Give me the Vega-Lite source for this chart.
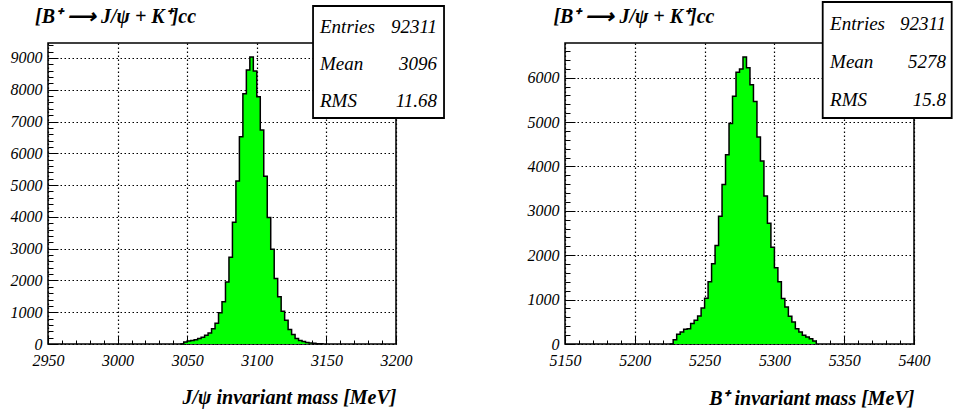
{
  "$schema": "https://vega.github.io/schema/vega-lite/v6.json",
  "background": "white",
  "padding": {"left": 9, "top": 0, "right": 0, "bottom": 0},
  "spacing": 169,
  "bounds": "flush",
  "config": {
    "view": {"stroke": "black", "strokeWidth": 1.5},
    "font": "Liberation Serif",
    "axis": {"labelFont": "Liberation Serif", "labelFontStyle": "italic", "labelFontSize": 16, "labelColor": "black", "tickColor": "black", "domain": false}
  },
  "datasets": {
    "jpsi": [
      {"mass": 3045, "entries": 0}, {"mass": 3047.5, "entries": 60}, {"mass": 3050, "entries": 95}, {"mass": 3052.5, "entries": 110},
      {"mass": 3055, "entries": 135}, {"mass": 3057.5, "entries": 170}, {"mass": 3060, "entries": 215}, {"mass": 3062.5, "entries": 275},
      {"mass": 3065, "entries": 350}, {"mass": 3067.5, "entries": 480}, {"mass": 3070, "entries": 650}, {"mass": 3072.5, "entries": 980},
      {"mass": 3075, "entries": 1330}, {"mass": 3077.5, "entries": 1950}, {"mass": 3080, "entries": 2730}, {"mass": 3082.5, "entries": 3830},
      {"mass": 3085, "entries": 5130}, {"mass": 3087.5, "entries": 6520}, {"mass": 3090, "entries": 7870}, {"mass": 3092.5, "entries": 8620},
      {"mass": 3095, "entries": 9030}, {"mass": 3097.5, "entries": 8590}, {"mass": 3100, "entries": 7780}, {"mass": 3102.5, "entries": 6730},
      {"mass": 3105, "entries": 5280}, {"mass": 3107.5, "entries": 3980}, {"mass": 3110, "entries": 2980}, {"mass": 3112.5, "entries": 2060},
      {"mass": 3115, "entries": 1490}, {"mass": 3117.5, "entries": 1030}, {"mass": 3120, "entries": 745}, {"mass": 3122.5, "entries": 460},
      {"mass": 3125, "entries": 300}, {"mass": 3127.5, "entries": 175}, {"mass": 3130, "entries": 110}, {"mass": 3132.5, "entries": 75},
      {"mass": 3135, "entries": 50}, {"mass": 3137.5, "entries": 32}, {"mass": 3140, "entries": 20}, {"mass": 3142.5, "entries": 10},
      {"mass": 3145, "entries": 5}, {"mass": 3147.5, "entries": 0}
    ],
    "bplus": [
      {"mass": 5225, "entries": 0}, {"mass": 5227.5, "entries": 97}, {"mass": 5230, "entries": 218}, {"mass": 5232.5, "entries": 270},
      {"mass": 5235, "entries": 330}, {"mass": 5237.5, "entries": 345}, {"mass": 5240, "entries": 460}, {"mass": 5242.5, "entries": 535},
      {"mass": 5245, "entries": 632}, {"mass": 5247.5, "entries": 810}, {"mass": 5250, "entries": 1030}, {"mass": 5252.5, "entries": 1400},
      {"mass": 5255, "entries": 1810}, {"mass": 5257.5, "entries": 2220}, {"mass": 5260, "entries": 2875}, {"mass": 5262.5, "entries": 3590},
      {"mass": 5265, "entries": 4265}, {"mass": 5267.5, "entries": 4965}, {"mass": 5270, "entries": 5580}, {"mass": 5272.5, "entries": 6120},
      {"mass": 5275, "entries": 6195}, {"mass": 5277.5, "entries": 6463}, {"mass": 5280, "entries": 6220}, {"mass": 5282.5, "entries": 5840},
      {"mass": 5285, "entries": 5465}, {"mass": 5287.5, "entries": 4665}, {"mass": 5290, "entries": 4120}, {"mass": 5292.5, "entries": 3335},
      {"mass": 5295, "entries": 2720}, {"mass": 5297.5, "entries": 2180}, {"mass": 5300, "entries": 1720}, {"mass": 5302.5, "entries": 1400},
      {"mass": 5305, "entries": 1023}, {"mass": 5307.5, "entries": 835}, {"mass": 5310, "entries": 625}, {"mass": 5312.5, "entries": 497},
      {"mass": 5315, "entries": 346}, {"mass": 5317.5, "entries": 270}, {"mass": 5320, "entries": 196}, {"mass": 5322.5, "entries": 158},
      {"mass": 5325, "entries": 120}, {"mass": 5327.5, "entries": 68}, {"mass": 5330, "entries": 0}
    ]
  },
  "hconcat": [
    {
      "width": 348,
      "height": 301,
      "data": {"name": "jpsi"},
      "resolve": {"axis": {"x": "independent", "y": "independent"}},
      "layer": [
        {
          "mark": {"type": "area", "interpolate": "step-after", "color": "#00ff00"},
          "encoding": {
            "x": {
              "field": "mass", "type": "quantitative",
              "scale": {"domain": [2950, 3200], "nice": false, "zero": false},
              "axis": {
                "orient": "bottom",
                "values": [2950, 3000, 3050, 3100, 3150, 3200],
                "tickCount": 100,
                "format": "d",
                "labelFont": "Liberation Serif", "labelFontStyle": "italic", "labelFontSize": 16, "labelColor": "black",
                "labelFlush": false, "labelOverlap": false, "labelPadding": 16,
                "tickColor": "black", "tickWidth": 1, "tickSize": -8,
                "grid": true, "gridColor": "black", "gridDash": [1.5, 2.5], "gridWidth": 1.2,
                "domain": false,
                "title": "J/ψ invariant mass [MeV]",
                "titleFont": "Liberation Serif", "titleFontStyle": "italic", "titleFontWeight": "bold", "titleFontSize": 20, "titleColor": "black",
                "titleAnchor": "end", "titleAlign": "right", "titlePadding": 19
              }
            },
            "y": {
              "field": "entries", "type": "quantitative",
              "scale": {"domain": [0, 9470], "nice": false, "zero": true},
              "axis": {
                "orient": "left",
                "values": [0, 1000, 2000, 3000, 4000, 5000, 6000, 7000, 8000, 9000],
                "tickCount": 100,
                "format": "d",
                "labelFont": "Liberation Serif", "labelFontStyle": "italic", "labelFontSize": 16, "labelColor": "black",
                "labelFlush": false, "labelOverlap": false, "labelPadding": 16,
                "tickColor": "black", "tickWidth": 1, "tickSize": -10,
                "grid": true, "gridColor": "black", "gridDash": [1.5, 2.5], "gridWidth": 1.2,
                "domain": false,
                "title": null
              }
            }
          }
        },
        {
          "mark": {"type": "line", "interpolate": "step-after", "color": "black", "strokeWidth": 1.5},
          "encoding": {
            "x": {
              "field": "mass", "type": "quantitative",
              "axis": {
                "orient": "bottom",
                "values": [2960, 2970, 2980, 2990, 3010, 3020, 3030, 3040, 3060, 3070, 3080, 3090, 3110, 3120, 3130, 3140, 3160, 3170, 3180, 3190],
                "tickCount": 100, "labels": false, "grid": false, "domain": false, "title": null,
                "tickColor": "black", "tickWidth": 1, "tickSize": -4
              }
            },
            "y": {
              "field": "entries", "type": "quantitative",
              "axis": {
                "orient": "left",
                "values": [200, 400, 600, 800, 1200, 1400, 1600, 1800, 2200, 2400, 2600, 2800, 3200, 3400, 3600, 3800, 4200, 4400, 4600, 4800, 5200, 5400, 5600, 5800, 6200, 6400, 6600, 6800, 7200, 7400, 7600, 7800, 8200, 8400, 8600, 8800, 9200, 9400],
                "tickCount": 100, "labels": false, "grid": false, "domain": false, "title": null,
                "tickColor": "black", "tickWidth": 1, "tickSize": -5
              }
            }
          }
        },
        {
          "data": {"values": [{}]},
          "mark": {"type": "rect", "fill": "white", "stroke": "black", "strokeWidth": 1.8},
          "encoding": {
            "x": {"datum": 3140.4, "axis": null}, "x2": {"datum": 3234.5},
            "y": {"datum": 10634, "axis": null}, "y2": {"datum": 7110}
          }
        },
        {
          "data": {"values": [{}]},
          "mark": {"type": "text", "align": "left", "baseline": "alphabetic", "font": "Liberation Serif", "fontStyle": "italic", "fontSize": 19, "lineHeight": 37, "color": "black"},
          "encoding": {
            "x": {"datum": 3145.4, "axis": null}, "y": {"datum": 9785, "axis": null},
            "text": {"value": ["Entries", "Mean", "RMS"]}
          }
        },
        {
          "data": {"values": [{}]},
          "mark": {"type": "text", "align": "right", "baseline": "alphabetic", "font": "Liberation Serif", "fontStyle": "italic", "fontSize": 19, "lineHeight": 37, "color": "black"},
          "encoding": {
            "x": {"datum": 3229.5, "axis": null}, "y": {"datum": 9785, "axis": null},
            "text": {"value": ["92311", "3096", "11.68"]}
          }
        },
        {
          "data": {"values": [{}]},
          "mark": {"type": "text", "align": "left", "baseline": "alphabetic", "font": "Liberation Serif", "fontStyle": "italic", "fontWeight": "bold", "fontSize": 20, "color": "black"},
          "encoding": {
            "x": {"datum": 2940.7, "axis": null}, "y": {"datum": 10099, "axis": null},
            "text": {"value": "[B⁺ ⟶ J/ψ + K⁺]cc"}
          }
        }
      ]
    },
    {
      "width": 349,
      "height": 301,
      "data": {"name": "bplus"},
      "resolve": {"axis": {"x": "independent", "y": "independent"}},
      "layer": [
        {
          "mark": {"type": "area", "interpolate": "step-after", "color": "#00ff00"},
          "encoding": {
            "x": {
              "field": "mass", "type": "quantitative",
              "scale": {"domain": [5150, 5400], "nice": false, "zero": false},
              "axis": {
                "orient": "bottom",
                "values": [5150, 5200, 5250, 5300, 5350, 5400],
                "tickCount": 100,
                "format": "d",
                "labelFont": "Liberation Serif", "labelFontStyle": "italic", "labelFontSize": 16, "labelColor": "black",
                "labelFlush": false, "labelOverlap": false, "labelPadding": 16,
                "tickColor": "black", "tickWidth": 1, "tickSize": -8,
                "grid": true, "gridColor": "black", "gridDash": [1.5, 2.5], "gridWidth": 1.2,
                "domain": false,
                "title": "B⁺ invariant mass [MeV]",
                "titleFont": "Liberation Serif", "titleFontStyle": "italic", "titleFontWeight": "bold", "titleFontSize": 20, "titleColor": "black",
                "titleAnchor": "end", "titleAlign": "right", "titlePadding": 20
              }
            },
            "y": {
              "field": "entries", "type": "quantitative",
              "scale": {"domain": [0, 6780], "nice": false, "zero": true},
              "axis": {
                "orient": "left",
                "values": [0, 1000, 2000, 3000, 4000, 5000, 6000],
                "tickCount": 100,
                "format": "d",
                "labelFont": "Liberation Serif", "labelFontStyle": "italic", "labelFontSize": 16, "labelColor": "black",
                "labelFlush": false, "labelOverlap": false, "labelPadding": 16,
                "tickColor": "black", "tickWidth": 1, "tickSize": -10,
                "grid": true, "gridColor": "black", "gridDash": [1.5, 2.5], "gridWidth": 1.2,
                "domain": false,
                "title": null
              }
            }
          }
        },
        {
          "mark": {"type": "line", "interpolate": "step-after", "color": "black", "strokeWidth": 1.5},
          "encoding": {
            "x": {
              "field": "mass", "type": "quantitative",
              "axis": {
                "orient": "bottom",
                "values": [5160, 5170, 5180, 5190, 5210, 5220, 5230, 5240, 5260, 5270, 5280, 5290, 5310, 5320, 5330, 5340, 5360, 5370, 5380, 5390],
                "tickCount": 100, "labels": false, "grid": false, "domain": false, "title": null,
                "tickColor": "black", "tickWidth": 1, "tickSize": -4
              }
            },
            "y": {
              "field": "entries", "type": "quantitative",
              "axis": {
                "orient": "left",
                "values": [200, 400, 600, 800, 1200, 1400, 1600, 1800, 2200, 2400, 2600, 2800, 3200, 3400, 3600, 3800, 4200, 4400, 4600, 4800, 5200, 5400, 5600, 5800, 6200, 6400, 6600],
                "tickCount": 100, "labels": false, "grid": false, "domain": false, "title": null,
                "tickColor": "black", "tickWidth": 1, "tickSize": -5
              }
            }
          }
        },
        {
          "data": {"values": [{}]},
          "mark": {"type": "rect", "fill": "white", "stroke": "black", "strokeWidth": 1.8},
          "encoding": {
            "x": {"datum": 5334.6, "axis": null}, "x2": {"datum": 5427},
            "y": {"datum": 7704, "axis": null}, "y2": {"datum": 5091}
          }
        },
        {
          "data": {"values": [{}]},
          "mark": {"type": "text", "align": "left", "baseline": "alphabetic", "font": "Liberation Serif", "fontStyle": "italic", "fontSize": 19, "lineHeight": 38, "color": "black"},
          "encoding": {
            "x": {"datum": 5339.9, "axis": null}, "y": {"datum": 7073, "axis": null},
            "text": {"value": ["Entries", "Mean", "RMS"]}
          }
        },
        {
          "data": {"values": [{}]},
          "mark": {"type": "text", "align": "right", "baseline": "alphabetic", "font": "Liberation Serif", "fontStyle": "italic", "fontSize": 19, "lineHeight": 38, "color": "black"},
          "encoding": {
            "x": {"datum": 5423, "axis": null}, "y": {"datum": 7073, "axis": null},
            "text": {"value": ["92311", "5278", "15.8"]}
          }
        },
        {
          "data": {"values": [{}]},
          "mark": {"type": "text", "align": "left", "baseline": "alphabetic", "font": "Liberation Serif", "fontStyle": "italic", "fontWeight": "bold", "fontSize": 20, "color": "black"},
          "encoding": {
            "x": {"datum": 5141.7, "axis": null}, "y": {"datum": 7231, "axis": null},
            "text": {"value": "[B⁺ ⟶ J/ψ + K⁺]cc"}
          }
        }
      ]
    }
  ]
}
